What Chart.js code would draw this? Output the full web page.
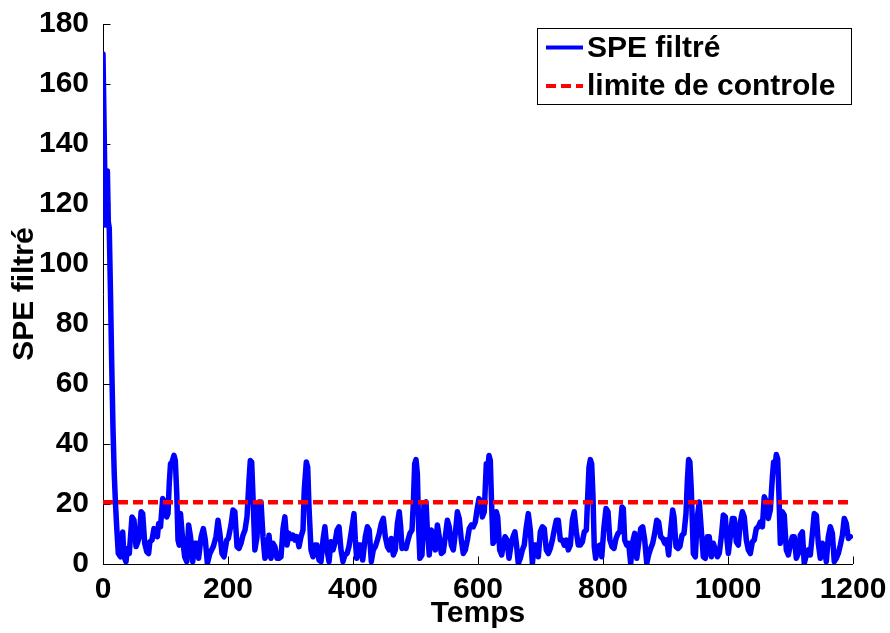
<!DOCTYPE html>
<html>
<head>
<meta charset="utf-8">
<script src="https://cdn.jsdelivr.net/npm/chart.js@4/dist/chart.umd.min.js"></script>
<style>
  html, body { margin: 0; padding: 0; background: #ffffff; }
  canvas { display: block; }
</style>
</head>
<body>
<canvas id="spe" width="890" height="633"></canvas>
<script>
// Temps d'échantillonnage et SPE filtré correspondant
const temps = [
  0, 2, 4, 5.5, 7, 8.5, 10, 12, 14, 16, 18, 20, 22, 24.5,
  28, 31.5, 33.6, 36.8, 39, 42, 46.4, 49.6, 52.8, 55, 58, 61, 63.5, 66.7, 70, 73, 75, 78.4, 81.6, 84.8, 87, 89, 92, 95.5, 98.7,
  101.9, 104, 106, 108, 110.4, 113.6, 115.7, 118, 120, 122, 124, 127.5, 130.7, 134, 137, 140, 143.5, 146.7, 150, 153, 157,
  160.5, 163.7, 167, 171, 176.5, 180.8, 184, 187, 190.4, 193.6, 198,
  200.5, 204.8, 208, 211, 214.4, 217.6, 220.8, 224, 227.2, 230.4, 233.6, 235.7, 237.9, 240, 243, 246.4, 249.6, 252.8, 256,
  259, 262.4, 265.6, 268.8, 272, 275, 278.4, 281.6, 284.8, 288, 291, 294.4, 297.6, 300.8, 304, 307, 310.4, 313.6, 316.8,
  320, 322, 325.3, 327.5, 329.6, 332.8, 336, 339, 342.4, 345.6, 348.8, 352, 355, 358.4, 361.6, 364.8, 368, 371, 374.4,
  377.6, 380.8, 384, 387, 390.4, 393.6, 398, 401.6,
  403.7, 405.9, 409, 412.3, 415.5, 419.7, 423, 426, 429.3, 432.5, 435.7, 439, 442, 445.3, 448.5, 451.7, 455, 458, 461.3,
  464.5, 467.7, 471, 474, 476.3, 478.4, 481.6, 484.8, 488, 491, 494.4, 496.5, 498.7, 500.8, 503, 505, 507, 510.4, 513.6,
  516.8, 519, 522, 525.3, 528.5, 531.7, 535, 538, 541.3, 544.5, 547.7, 551, 554, 557.3, 560.5, 563.7, 567, 570, 573.3,
  576.5, 579.7, 583, 586, 589.3, 592.5, 595.7, 598.4, 601.6,
  604.8, 607, 610, 613.3, 615.5, 617.6, 619.7, 621.9, 624, 627.2, 629.3, 631.5, 634.7, 637.9, 641, 643.2, 646.4, 649.6,
  652.8, 656, 659, 661.3, 664.5, 667.7, 671, 674, 677.3, 680.5, 683.7, 687, 690, 693.3, 696.5, 699.7, 703, 706, 709.3,
  712.5, 715.7, 719, 722, 725.3, 728.5, 731.7, 735, 738, 741.3, 744.5, 747.7, 751, 754, 757.3, 760.5, 763.7, 767, 770,
  773.3, 775.5, 777.6, 779.7, 781.9, 784, 786, 788.3, 791.5, 794.7, 798,
  801.6, 804.8, 808, 811, 814.4, 817.6, 820.8, 824, 827, 830.4, 832.5, 834.7, 838, 841, 844.3, 847.5, 850.7, 854, 857,
  860.3, 863.5, 866.7, 870, 873, 876.3, 879.5, 882.7, 886, 889, 892.3, 895.5, 898.7, 902, 905, 908.3, 911.5, 913.6,
  916.8, 920, 923, 926.4, 929.6, 932.8, 935, 937, 939, 941.3, 944.5, 947.7, 951, 954, 957.3, 960.5, 963.7, 967, 970,
  973.3, 976.5, 979.7, 983, 986, 989.3, 992.5, 995.7,
  998.4, 1000.5, 1003.7, 1007, 1010, 1013.3, 1016.5, 1019.7, 1023, 1026, 1029.3, 1032.5, 1035.7, 1039, 1042, 1045.3,
  1048.5, 1051.7, 1055, 1058, 1061.3, 1064.5, 1067.7, 1071, 1073, 1075.2, 1077.3, 1079.5, 1081.6, 1083.7, 1087, 1090,
  1093.3, 1096.5, 1099.7, 1103, 1106, 1109.3, 1112.5, 1115.7, 1119, 1122, 1125.3, 1128.5, 1131.7, 1135, 1138, 1141.3,
  1144.5, 1147.7, 1151, 1154, 1157.3, 1160.5, 1163.7, 1167, 1170, 1173.3, 1176.5, 1179.7, 1183, 1186, 1189.3, 1192.5, 1195.7
];

const speFiltre = [
  170, 142, 113, 124, 131, 114, 112, 90, 66, 45, 30, 20, 12, 3.5,
  2.4, 10.7, 2.4, 0.8, 5.2, 3.5, 15.7, 14.6, 5.8, 6.9, 9.1, 17.4, 16.8, 6.9, 4.1, 3.5, 7.4, 8, 11.8, 11.3, 9.1, 13.5, 12.4, 21.8, 20.7,
  15.7, 16.8, 26.8, 33.4, 34, 36.2, 34.5, 23.5, 8, 6.3, 16.8, 8, 2.4, 0.8, 13, 9.1, 0.8, 6.9, 6.9, 1.9, 9.1,
  11.8, 8, 0.2, 3.5, 5.8, 9.1, 14.6, 10.2, 3.5, 2.4, 8,
  8.5, 13, 18, 17.4, 5.8, 5.2, 6.9, 9.6, 11.3, 15.7, 27.9, 34.5, 34, 22.4, 4.7, 9.1, 20.7, 20.7, 9.1,
  1.9, 3, 9.6, 1.9, 6.9, 5.8, 1.9, 1.9, 2.4, 11.8, 15.7, 6.3, 10.2, 8.5, 9.6, 8, 9.1, 5.8, 9.1,
  11.3, 24.6, 34, 32.3, 19, 4.7, 2.4, 6.3, 6.3, 1.3, 0.8, 8, 12.4, 4.7, 0.8, 7.4, 4.7, 6.9, 11.3,
  12.4, 4.7, 0.8, 3, 3.5, 5.8, 11.8, 16.8,
  8, 1.9, 6.3, 6.3, 1.3, 9.1, 12.4, 11.3, 0.8, 4.7, 5.8, 8, 10.2, 13.5, 15.2, 9.1, 5.8, 4.7, 8.5,
  3, 4.7, 13.5, 17.4, 12.4, 5.2, 5.8, 5.2, 8, 10.2, 11.3, 20.1, 33.4, 34.8, 30, 12.4, 1.9, 3, 20.1,
  20.7, 11.3, 3, 11.3, 8, 4.7, 13, 9.1, 3.5, 4.1, 9.1, 14.6, 12.4, 6.3, 4.7, 10.2, 17.4, 15.2, 8,
  3.5, 4.7, 8, 11.8, 13, 12.4, 14, 18, 21.8,
  20.7, 15.7, 17.4, 33.4, 31.2, 36.2, 34.5, 19, 6.9, 8, 17.4, 15.7, 4.7, 3, 6.9, 9.1, 8, 1.9,
  6.3, 9.1, 10.7, 6.9, 0.2, 1.9, 4.7, 6.3, 12.4, 16.8, 11.3, 0.2, 6.3, 6.3, 2.4, 10.7, 12.4, 11.8, 4.7,
  3.5, 5.2, 8, 11.3, 14.6, 14.6, 8, 8, 6.3, 8, 4.7, 6.3, 14.6, 17.4, 10.7, 6.3, 6.3, 7.4, 10.7,
  11.3, 22.4, 32.3, 34.8, 33.4, 22.4, 5.8, 1.9, 5.8, 6.3, 2.4,
  12.4, 18.5, 17.4, 8, 5.8, 5.2, 8.5, 10.2, 10.7, 19, 18.5, 8, 6.3, 6.9, 0.2, 7.4, 10.2, 1.9, 6.9,
  11.8, 12.4, 8, 0.2, 3, 5.2, 6.9, 10.2, 14.6, 14, 9.1, 8.5, 6.9, 8, 3, 11.3, 18, 15.7,
  5.8, 5.2, 5.8, 9.6, 10.2, 16.8, 27.9, 34.8, 34, 24.6, 3.5, 2.4, 15.7, 20.7, 11.3, 2.4, 1.9, 9.1, 9.1,
  2.4, 6.9, 4.7, 2.4, 3.5, 9.1, 16.3, 15.7,
  8, 3.5, 9.1, 15.2, 15.2, 7.4, 6.3, 14, 17.4, 15.7, 8, 4.7, 3.5, 7.4, 8, 11.8,
  12.4, 14, 12.4, 22.4, 20.7, 15.2, 18, 29, 34, 32.3, 36.5, 35, 22.4, 6.9, 17.4, 16.3,
  4.7, 3, 6.3, 9.1, 9.1, 1.9, 3.5, 9.6, 10.7, 0.2, 3, 4.7, 3, 10.2, 16.8, 16.3,
  6.9, 1.9, 6.9, 5.2, 0.8, 9.1, 12.4, 10.2, 0.8, 1.9, 3.5, 6.3, 9.6, 15.2, 13.5, 8.5, 9.1
];

// Limite de contrôle (constante sur toute la durée)
const limiteTemps = [0, 1200];
const limiteValeurs = [20.6, 20.6];

// Graduations des axes
const ticksX = [0, 200, 400, 600, 800, 1000, 1200];
const ticksY = [0, 20, 40, 60, 80, 100, 120, 140, 160, 180];

const FONT = { family: '"Liberation Sans", Arial, Helvetica, sans-serif', size: 30, weight: 'bold' };

const speData = temps.map((t, i) => ({ x: t, y: speFiltre[i] }));
const limiteData = limiteTemps.map((t, i) => ({ x: t, y: limiteValeurs[i] }));

// Axes à la façon MATLAB : traits gauche/bas et graduations vers l'intérieur
const axesMatlab = {
  id: 'axesMatlab',
  beforeDatasetsDraw(chart) {
    const { ctx, chartArea: a, scales: { x, y } } = chart;
    const tick = 7.5;
    ctx.save();
    ctx.strokeStyle = '#000000';
    ctx.lineWidth = 1;
    ctx.beginPath();
    ctx.moveTo(Math.round(a.left) + 0.5, a.top);
    ctx.lineTo(Math.round(a.left) + 0.5, Math.round(a.bottom) + 0.5);
    ctx.lineTo(a.right, Math.round(a.bottom) + 0.5);
    ticksY.forEach(v => {
      const py = Math.round(y.getPixelForValue(v)) + 0.5;
      ctx.moveTo(a.left, py);
      ctx.lineTo(a.left + tick, py);
    });
    ticksX.forEach(v => {
      const px = Math.round(x.getPixelForValue(v)) + 0.5;
      ctx.moveTo(px, a.bottom);
      ctx.lineTo(px, a.bottom - tick);
    });
    ctx.stroke();
    ctx.restore();
  }
};

// Légende encadrée en haut à droite
const legendeCadre = {
  id: 'legendeCadre',
  afterDraw(chart) {
    const { ctx } = chart;
    const box = { x: 537.5, y: 28.5, w: 314, h: 76 };
    ctx.save();
    ctx.fillStyle = '#ffffff';
    ctx.fillRect(box.x, box.y, box.w, box.h);
    ctx.strokeStyle = '#000000';
    ctx.lineWidth = 1;
    ctx.strokeRect(box.x, box.y, box.w, box.h);
    const rows = [47.5, 86];
    [0, 1].forEach((di, r) => {
      const ds = chart.data.datasets[di];
      const yy = rows[r];
      ctx.beginPath();
      ctx.strokeStyle = ds.borderColor;
      ctx.lineWidth = 4;
      ctx.lineCap = 'butt';
      ctx.setLineDash(ds.borderDash || []);
      ctx.moveTo(546, yy);
      ctx.lineTo(583, yy);
      ctx.stroke();
      ctx.setLineDash([]);
      ctx.fillStyle = '#000000';
      ctx.font = `${FONT.weight} ${FONT.size}px ${FONT.family}`;
      ctx.textBaseline = 'middle';
      ctx.textAlign = 'left';
      ctx.fillText(ds.label, 587, yy + 1);
    });
    ctx.restore();
  }
};

new Chart(document.getElementById('spe'), {
  type: 'line',
  data: {
    datasets: [
      {
        label: 'SPE filtré',
        data: speData,
        borderColor: '#0000ff',
        borderWidth: 5.5,
        borderJoinStyle: 'round',
        borderCapStyle: 'round',
        pointRadius: 0,
        tension: 0,
        fill: false,
        order: 1
      },
      {
        label: 'limite de controle',
        data: limiteData,
        borderColor: '#ff0000',
        borderWidth: 4.5,
        borderDash: [10, 5],
        pointRadius: 0,
        tension: 0,
        fill: false,
        order: 0
      }
    ]
  },
  options: {
    responsive: false,
    animation: false,
    devicePixelRatio: 1,
    layout: { padding: { top: 22, right: 37, left: 0, bottom: 0 } },
    plugins: {
      legend: { display: false },
      tooltip: { enabled: false }
    },
    scales: {
      x: {
        type: 'linear',
        min: 0,
        max: 1200,
        afterBuildTicks(scale) { scale.ticks = ticksX.map(v => ({ value: v })); },
        afterFit(scale) { scale.height = 69; },
        grid: { display: false },
        border: { display: false },
        ticks: { font: FONT, color: '#000000', padding: 0, maxRotation: 0, autoSkip: false, callback: v => String(v) },
        title: { display: true, text: 'Temps', font: FONT, color: '#000000', padding: { top: 0, bottom: 1 } }
      },
      y: {
        type: 'linear',
        min: 0,
        max: 180,
        afterBuildTicks(scale) { scale.ticks = ticksY.map(v => ({ value: v })); },
        afterFit(scale) { scale.width = 103; },
        grid: { display: false },
        border: { display: false },
        ticks: { font: FONT, color: '#000000', padding: 6, autoSkip: false, callback: v => String(v) },
        title: { display: true, text: 'SPE filtré', font: FONT, color: '#000000', padding: { top: 7, bottom: 0 } }
      }
    }
  },
  plugins: [axesMatlab, legendeCadre]
});
</script>
</body>
</html>
